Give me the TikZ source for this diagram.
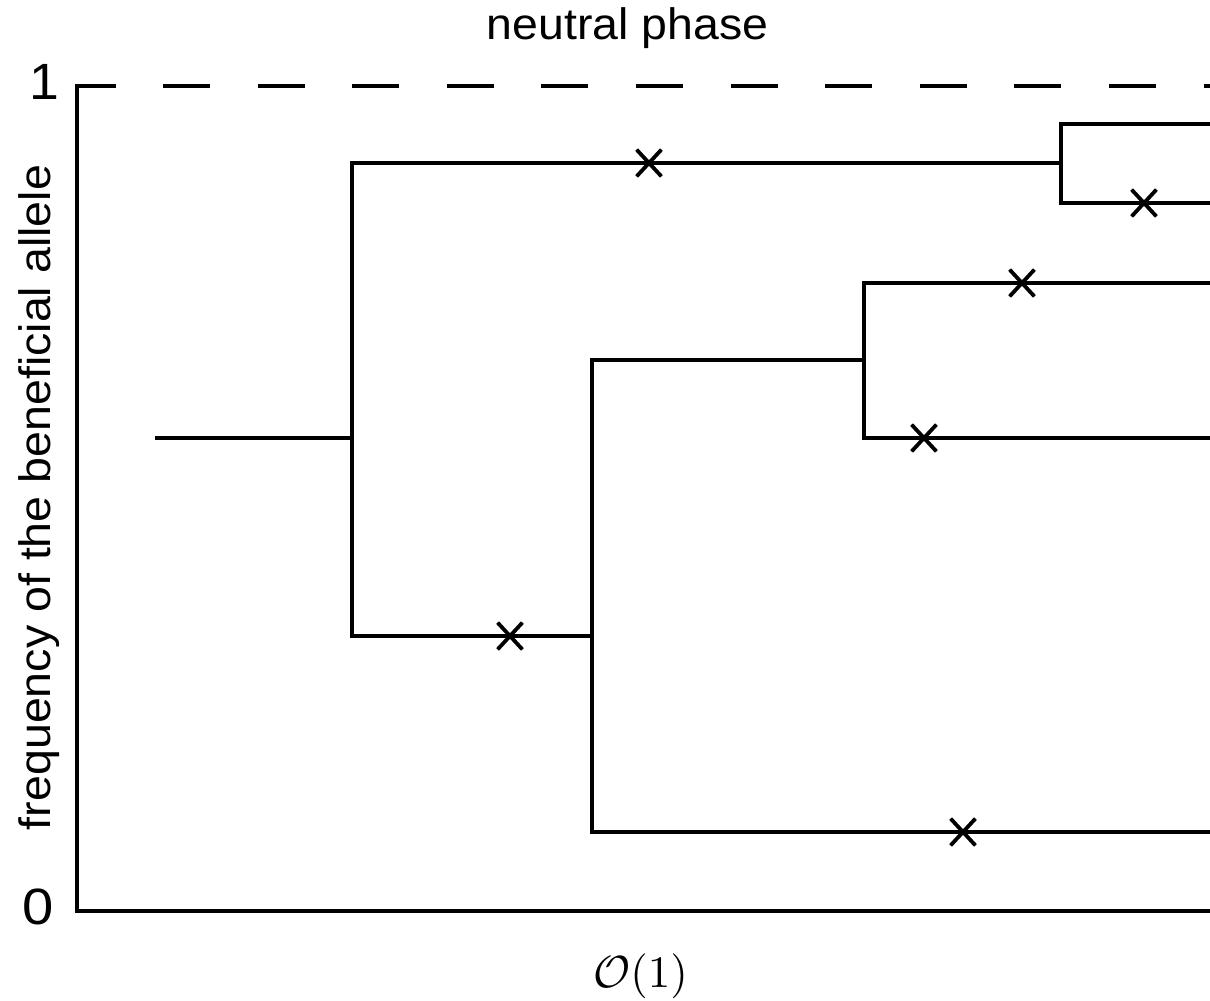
\documentclass[tikz,border=0pt]{standalone}
\usepackage[no-math]{fontspec}
\setmainfont{Liberation Sans}
\usepackage{graphicx}
\usetikzlibrary{shapes.misc}
\begin{document}
\begin{tikzpicture}[x=1pt,y=-1pt,
  tree/.style={line width=3.2pt, line join=miter},
  axisline/.style={line width=4.5pt, line join=miter},
  mut/.style={draw, cross out, line width=3.8pt, minimum width=21pt, minimum height=23pt, inner sep=0pt},
  lab/.style={inner sep=0pt, font=\fontsize{44}{52}\selectfont},
  digit/.style={inner sep=0pt, font=\fontsize{51}{60}\selectfont, anchor=base},
  ]
\useasboundingbox (0,0) rectangle (1210,1001);

% labels
\node[lab, anchor=base] (title) at (627.5,39.3) {\scalebox{1.055}[1]{neutral phase}};
\node[lab, anchor=base, rotate=90] (ylab) at (50,497.5) {\scalebox{1.058}[1]{frequency of the beneficial allele}};
\node[digit] (one) at (44.6,99.3) {\scalebox{1.05}[1]{1}};
\node[digit] (zero) at (38.5,924.5) {\scalebox{1.1}[1]{0}};
\node[inner sep=0pt, anchor=base] (order) at (640.5,987.5) {\scalebox{4.5}{$\mathcal{O}(1)$}};

% axes
\coordinate (dfirst) at (116,86);
\coordinate (corner) at (77,86);
\coordinate (origin) at (77,911);
\coordinate (xend) at (1210,911);
\coordinate (dstart) at (163,86);
\coordinate (dend) at (1215,86);
\draw[axisline] (dfirst) -- (corner) -- (origin) -- (xend);
\draw[axisline, dash pattern=on 47pt off 47.6pt] (dstart) -- (dend);

% tree
\coordinate (root) at (155,438);
\coordinate (j1) at (352,438);
\coordinate (c1) at (1061,163);
\coordinate (d1) at (592,636);
\coordinate (e1) at (864,360);
\coordinate (l1) at (1212,124);
\coordinate (l2) at (1212,203);
\coordinate (l3) at (1212,283);
\coordinate (l4) at (1212,438);
\coordinate (l6) at (1212,832);

\draw[tree] (root) -- (j1);
\draw[tree] (j1) |- (c1);
\draw[tree] (j1) |- (d1);
\draw[tree] (c1) |- (l1);
\draw[tree] (c1) |- (l2);
\draw[tree] (d1) |- (e1);
\draw[tree] (d1) |- (l6);
\draw[tree] (e1) |- (l3);
\draw[tree] (e1) |- (l4);

% mutations
\node[mut] (m1) at (649,163) {};
\node[mut] (m2) at (1144,203) {};
\node[mut] (m3) at (1022,283) {};
\node[mut] (m4) at (924,438) {};
\node[mut] (m5) at (510,636) {};
\node[mut] (m6) at (963,832) {};
\end{tikzpicture}
\end{document}
